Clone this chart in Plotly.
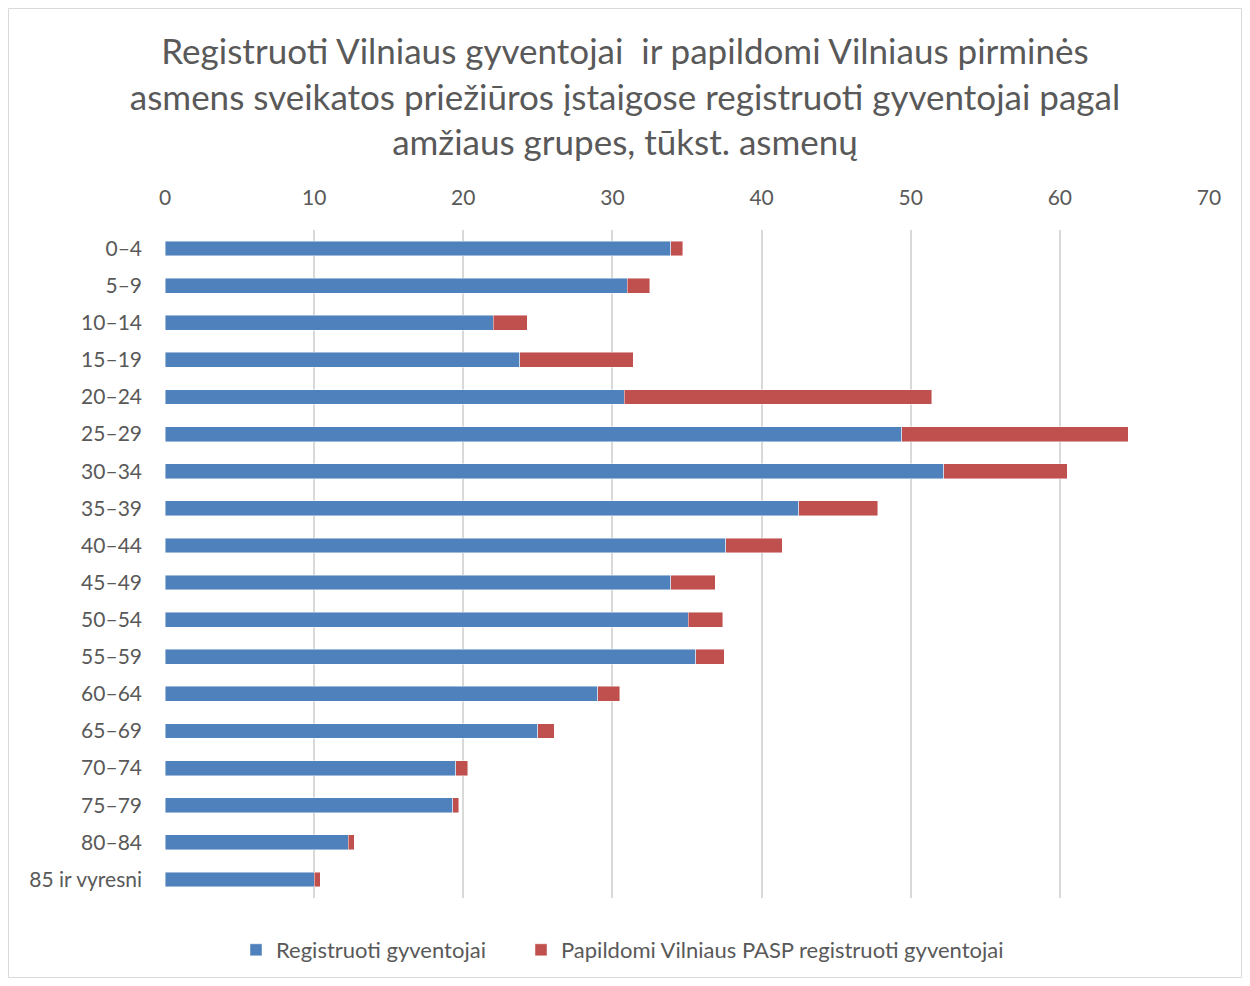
import plotly.graph_objects as go

# Amžiaus grupės
grupes = ["0–4", "5–9", "10–14", "15–19", "20–24", "25–29", "30–34", "35–39", "40–44",
          "45–49", "50–54", "55–59", "60–64", "65–69", "70–74", "75–79", "80–84", "85 ir vyresni"]

# Registruoti gyventojai, tūkst.
registruoti = [33.9, 31.0, 22.0, 23.8, 30.8, 49.4, 52.2, 42.5, 37.6,
               33.9, 35.1, 35.6, 29.0, 25.0, 19.5, 19.3, 12.3, 10.0]

# Papildomi Vilniaus PASP registruoti gyventojai, tūkst.
papildomi = [0.8, 1.5, 2.3, 7.6, 20.6, 15.2, 8.3, 5.3, 3.8,
             3.0, 2.3, 1.9, 1.5, 1.1, 0.8, 0.4, 0.4, 0.4]

FONT = "Lato"
TEXT = "#595959"

# puslapis turi 8 px paraštę, todėl figūra šiek tiek mažesnė
W, H = 1234, 970
L, T = 157, 222
PW, PH = 1044, 668

fig = go.Figure()
fig.add_trace(go.Bar(y=grupes, x=registruoti, orientation="h", name="Registruoti gyventojai",
                     legend="legend",
                     marker=dict(color="#4F81BD", line=dict(color="rgba(255,255,255,0.6)", width=0.75))))
fig.add_trace(go.Bar(y=grupes, x=papildomi, orientation="h", name="Papildomi Vilniaus PASP registruoti gyventojai",
                     legend="legend2",
                     marker=dict(color="#C0504D", line=dict(color="rgba(255,255,255,0.6)", width=0.75))))

leg = dict(orientation="h", xanchor="left", yref="container", y=1 - (950 - 8) / H, yanchor="middle",
           font=dict(size=22, color=TEXT), itemwidth=30, bgcolor="rgba(0,0,0,0)")

fig.update_layout(
    barmode="stack",
    bargap=0.6,
    width=W, height=H,
    margin=dict(l=L, r=W - L - PW, t=T, b=H - T - PH),
    paper_bgcolor="white", plot_bgcolor="white",
    font=dict(family=FONT, color=TEXT, size=21),
    title=dict(
        text="Registruoti Vilniaus gyventojai  ir papildomi Vilniaus pirminės<br>"
             "asmens sveikatos priežiūros įstaigose registruoti gyventojai pagal<br>"
             "amžiaus grupes, tūkst. asmenų",
        x=(625 - 8) / W, xanchor="center", xref="container",
        y=1 - (64 - 8) / H, yanchor="middle", yref="container",
        font=dict(family=FONT, size=35, color=TEXT),
    ),
    legend=dict(leg, x=(236 - 165) / PW),
    legend2=dict(leg, x=(521 - 165) / PW),
    showlegend=True,
)

fig.update_xaxes(range=[0, 70], dtick=10, side="top", showgrid=True, gridcolor="#d9d9d9",
                 gridwidth=1.5, zeroline=False, showline=False, ticks="",
                 ticklabelstandoff=20, tickfont=dict(size=21, color=TEXT))
fig.update_yaxes(autorange="reversed", showgrid=False, zeroline=False, showline=False,
                 ticks="", ticklabelstandoff=22, tickfont=dict(size=21, color=TEXT))

# Rėmelis aplink visą diagramą
fig.add_shape(type="rect", xref="paper", yref="paper",
              x0=-(L - 0.5) / PW, x1=(W - L - 0.5) / PW,
              y0=-(H - T - PH - 0.5) / PH, y1=(T - 0.5) / PH + 1,
              line=dict(color="#d9d9d9", width=1), layer="below")

fig.write_html("out.html")
